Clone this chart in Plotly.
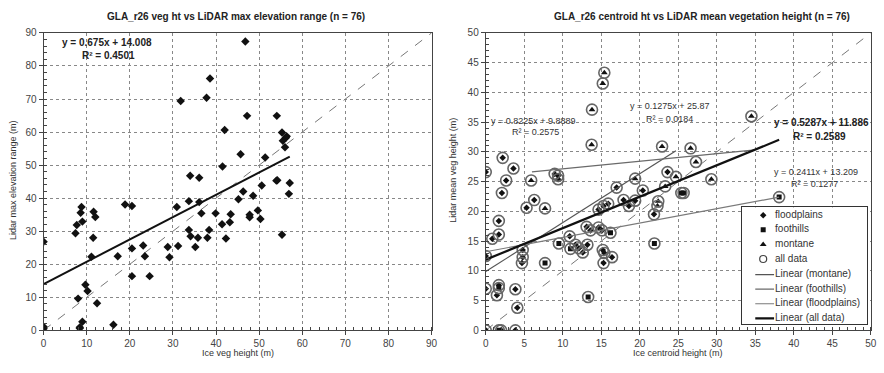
import plotly.graph_objects as go

W, H = 884, 373

# ---- Left panel: GLA_r26 veg height vs LiDAR max elevation range ----
veg_ht = [0, 0, 0, 7.4, 7.7, 8.6, 8.8, 9.0, 11.6, 12.0, 11.5, 11.1, 8.0, 9.7, 10.2, 12.4,
          9.0, 8.4, 16.2, 17.2, 18.9, 20.5, 20.5, 20.5, 23.1, 23.5, 24.6, 28.8, 29.2,
          30.9, 31.2, 33.7, 33.7, 34.1, 35.2, 36.1, 36.6, 35.8, 38.4, 38.0, 39.9, 41.4,
          42.3, 43.4, 43.2, 45.2, 46.3, 48.6, 47.8, 47.8, 49.7, 50.3, 55.3, 56.9,
          46.8, 38.6, 31.8, 37.8, 47.2, 54.1, 42.0, 55.3, 56.4, 56.2, 55.5, 56.0, 45.7,
          51.4, 41.5, 34.0, 36.1, 50.6, 54.0, 54.2, 57.1, 8.4]
max_elev = [26.8, 1.1, 0.5, 29.4, 31.9, 35.6, 37.3, 32.9, 35.9, 34.3, 28.0, 22.3, 9.6, 13.8,
            11.9, 8.2, 2.6, 0.6, 1.7, 22.4, 38.1, 37.6, 24.8, 16.4, 25.7, 22.4, 16.4, 25.2,
            22.1, 37.3, 25.5, 39.1, 30.4, 28.5, 25.2, 38.8, 35.4, 28.0, 30.4, 28.0, 35.4,
            32.1, 27.8, 35.1, 32.7, 39.7, 42.0, 40.7, 35.0, 34.2, 36.3, 33.7, 28.9, 41.3,
            87.4, 76.2, 69.4, 70.4, 64.9, 64.9, 60.6, 59.9, 58.7, 58.3, 57.4, 55.4, 53.3,
            52.3, 49.6, 46.8, 46.2, 43.8, 45.3, 45.4, 44.6, 0.9]
left_fit = (0.675, 14.008)
left_fit_range = (0, 57.1)

# ---- Right panel: GLA_r26 centroid height vs LiDAR mean vegetation height ----
flood_x = [0, 3.6, 2.2, 2.65, 8.95, 9.4, 9.4, 2.1, 17.0, 20.4, 23.6, 6.3, 5.3, 1.7, 1.7,
           0.85, 0, 4.8, 4.8, 4.7, 10.9, 11.65, 12.1, 12.6, 13.2, 13.1, 13.6, 14.65, 15.1,
           15.2, 15.4, 16.4, 15.3, 14.65, 15.3, 15.9, 17.9, 18.6, 19.4, 21.85, 0, 1.7,
           1.45, 3.85, 4.1, 0, 2.0, 3.85]
flood_y = [26.6, 27.2, 29.0, 25.2, 26.3, 26.0, 25.4, 23.1, 24.0, 23.5, 26.6, 21.9, 20.6,
           18.4, 16.1, 15.4, 12.5, 13.5, 12.3, 11.3, 15.8, 14.4, 13.8, 13.1, 14.4, 17.4,
           16.8, 17.3, 16.8, 13.5, 13.0, 12.3, 11.3, 20.3, 20.9, 21.3, 21.9, 20.9, 21.8,
           19.5, 7.0, 7.6, 5.9, 6.9, 3.8, 0, 0, 0]
foot_x = [38.1, 25.4, 25.7, 21.9, 16.2, 13.3, 9.5, 7.7, 1.7, 11.0, 1.7]
foot_y = [22.4, 23.1, 23.1, 14.6, 16.4, 5.6, 14.6, 11.3, 0, 13.7, 7.1]
mont_x = [15.4, 15.2, 13.8, 13.75, 34.5, 22.9, 26.6, 27.3, 24.7, 29.3, 19.4, 5.9, 7.7,
          22.4, 22.3, 23.3]
mont_y = [43.3, 41.5, 37.1, 31.2, 36.0, 30.9, 30.6, 28.3, 25.8, 25.4, 25.5, 25.2, 20.5,
          21.7, 20.9, 24.2]

# trend lines: (slope, intercept, x_start, x_end)
fit_montane = (0.8225, 9.8889, 0, 24.7)
fit_foothills = (0.1275, 25.87, 6.0, 35.0)
fit_floodplains = (0.2411, 13.209, 0, 38.1)
fit_all = (0.5287, 11.886, 0, 38.1)

legend_labels = ["floodplains", "foothills", "montane", "all data", "Linear (montane)",
                 "Linear (foothills)", "Linear (floodplains)", "Linear (all data)"]

FONT = "Liberation Sans, Arial, sans-serif"


def px(x):
    return x / W


def py(y):
    return 1 - y / H


def line_pts(slope, icpt, x0, x1):
    return [x0, x1], [slope * x0 + icpt, slope * x1 + icpt]


fig = go.Figure()

# left panel
fig.add_trace(go.Scatter(x=[0, 90], y=[0, 90], mode="lines", xaxis="x", yaxis="y",
                         line=dict(color="#777", width=1, dash="dash"), hoverinfo="skip"))
lx, ly = line_pts(left_fit[0], left_fit[1], *left_fit_range)
fig.add_trace(go.Scatter(x=lx, y=ly, mode="lines", xaxis="x", yaxis="y",
                         line=dict(color="#111", width=2)))
fig.add_trace(go.Scatter(x=veg_ht, y=max_elev, mode="markers", xaxis="x", yaxis="y",
                         marker=dict(symbol="diamond", size=6.5, color="#111")))

# right panel
mk_flood = dict(symbol="diamond", size=5, color="#111")
mk_foot = dict(symbol="square", size=5, color="#111")
mk_mont = dict(symbol="triangle-up", size=6, color="#111")
mk_all = dict(symbol="circle-open", size=11, color="#666", line=dict(width=1.6, color="#666"))
trend_styles = [(fit_montane, "#555", 1.2), (fit_foothills, "#6a6a6a", 1.2),
                (fit_floodplains, "#7a7a7a", 1.2), (fit_all, "#111", 2.2)]

fig.add_trace(go.Scatter(x=[0, 50], y=[0, 50], mode="lines", xaxis="x2", yaxis="y2",
                         line=dict(color="#777", width=1, dash="dash"), hoverinfo="skip"))
fig.add_trace(go.Scatter(x=flood_x, y=flood_y, mode="markers", xaxis="x2", yaxis="y2",
                         name="floodplains", marker=mk_flood))
fig.add_trace(go.Scatter(x=foot_x, y=foot_y, mode="markers", xaxis="x2", yaxis="y2",
                         name="foothills", marker=mk_foot))
fig.add_trace(go.Scatter(x=mont_x, y=mont_y, mode="markers", xaxis="x2", yaxis="y2",
                         name="montane", marker=mk_mont))
fig.add_trace(go.Scatter(x=flood_x + foot_x + mont_x, y=flood_y + foot_y + mont_y,
                         mode="markers", xaxis="x2", yaxis="y2", name="all data",
                         marker=mk_all))
for fit, color, width in trend_styles:
    fx, fy = line_pts(*fit)
    fig.add_trace(go.Scatter(x=fx, y=fy, mode="lines", xaxis="x2", yaxis="y2",
                             line=dict(color=color, width=width)))

# legend box drawn as a small inset axis (x: 0-126, y: 0-120 top-down)
LEG_L, LEG_R, LEG_T, LEG_B = 747, 873, 208, 328
rows = [8, 23, 38, 53, 69, 84, 99, 114]
sym_markers = [mk_flood, mk_foot, mk_mont,
               dict(symbol="circle-open", size=7, color="#444", line=dict(width=1.2))]
for r, mk in zip(rows[:4], sym_markers):
    fig.add_trace(go.Scatter(x=[21], y=[r], mode="markers", xaxis="x3", yaxis="y3",
                             marker=mk))
for r, (fit, color, width) in zip(rows[4:], trend_styles):
    fig.add_trace(go.Scatter(x=[13, 32], y=[r, r], mode="lines", xaxis="x3", yaxis="y3",
                             line=dict(color=color, width=width)))
fig.add_trace(go.Scatter(x=[33] * len(rows), y=rows, mode="text", text=legend_labels,
                         textposition="middle right", xaxis="x3", yaxis="y3",
                         textfont=dict(family=FONT, size=10, color="#333")))

axis_common = dict(
    showline=True, linecolor="#444", linewidth=1, mirror=True,
    showgrid=True, gridcolor="#888", griddash="dot", gridwidth=1,
    zeroline=False, ticks="outside", ticklen=4, tickcolor="#444",
    tickfont=dict(family=FONT, size=10, color="#444"),
)
legend_axis = dict(showline=True, linecolor="#333", linewidth=1, mirror=True,
                   showgrid=False, zeroline=False, showticklabels=False, ticks="",
                   fixedrange=True)

ydom = [1 - 334.3 / H, 1 - 28.7 / H]
fig.update_layout(
    width=W, height=H,
    margin=dict(l=0, r=0, t=0, b=0),
    paper_bgcolor="white", plot_bgcolor="white",
    font=dict(family=FONT, color="#222"),
    showlegend=False,
    xaxis=dict(domain=[41 / W, 433 / W], range=[0, 90], dtick=10, anchor="y",
               minor=dict(dtick=2, ticks="inside", ticklen=3, tickcolor="#444",
                          showgrid=False), **axis_common),
    yaxis=dict(domain=ydom, range=[0, 90], dtick=10, anchor="x",
               minor=dict(dtick=2, ticks="inside", ticklen=3, tickcolor="#444",
                          showgrid=False), **axis_common),
    xaxis2=dict(domain=[487.7 / W, 876.7 / W], range=[0, 50], dtick=5, anchor="y2",
                minor=dict(dtick=1, ticks="inside", ticklen=3, tickcolor="#444",
                           showgrid=False), **axis_common),
    yaxis2=dict(domain=ydom, range=[0, 50], dtick=5, anchor="x2",
                minor=dict(dtick=1, ticks="inside", ticklen=3, tickcolor="#444",
                           showgrid=False), **axis_common),
    xaxis3=dict(domain=[LEG_L / W, LEG_R / W], range=[0, LEG_R - LEG_L], anchor="y3",
                **legend_axis),
    yaxis3=dict(domain=[py(LEG_B), py(LEG_T)], range=[LEG_B - LEG_T, 0], anchor="x3",
                **legend_axis),
)


def note(text, x, y, size=10, bold=False, angle=0, color="#222"):
    if bold:
        text = "<b>" + text + "</b>"
    fig.add_annotation(text=text, x=px(x), y=py(y), xref="paper", yref="paper",
                       showarrow=False, textangle=angle, xanchor="center",
                       yanchor="middle", font=dict(family=FONT, size=size, color=color))


# titles
note("GLA_r26 veg ht vs LiDAR max elevation range (n = 76)", 235, 12, size=10, bold=True)
note("GLA_r26 centroid ht vs LiDAR mean vegetation height (n = 76)", 706, 12, size=10,
     bold=True)
# axis titles
note("Ice veg height (m)", 237, 358, size=9, color="#333")
note("Ice centroid height (m)", 682, 358, size=9, color="#333")
note("Lidar max elevation range (m)", 10, 180, size=9, angle=-90, color="#333")
note("Lidar mean veg height (m)", 455, 170, size=9, angle=-90, color="#333")

# regression equations
note("y = 0.675x + 14.008", 105, 39, size=10, bold=True)
note("R² = 0.4501", 107, 52, size=10, bold=True)
note("y = 0.8225x + 9.8889", 536, 119, size=9, color="#333")
note("R² = 0.2575", 538, 131, size=9, color="#333")
note("y = 0.1275x + 25.87", 674, 104, size=9, color="#333")
note("R² = 0.0184", 673, 117, size=9, color="#333")
note("y = 0.5287x + 11.886", 827, 121, size=10, bold=True)
note("R² = 0.2589", 825, 135, size=10, bold=True)
note("y = 0.2411x + 13.209", 821, 172, size=9, color="#333")
note("R² = 0.1277", 820, 184, size=9, color="#333")

fig.write_html("out.html")
